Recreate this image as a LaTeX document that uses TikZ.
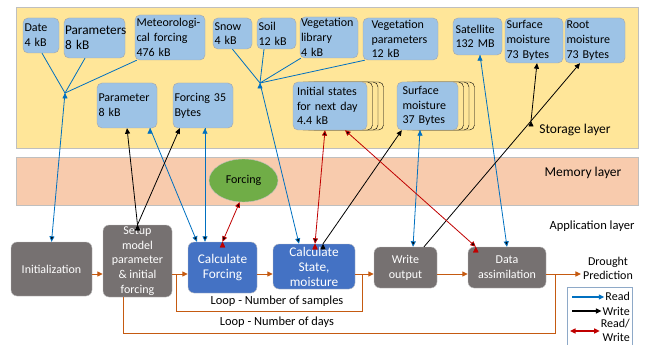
\documentclass[tikz,border=0pt]{standalone}
\usepackage{fontspec}
\setmainfont{Carlito}
\usetikzlibrary{arrows.meta,shapes.geometric}
\definecolor{storeyellow}{HTML}{FFE699}
\definecolor{memorange}{HTML}{F8CBAD}
\definecolor{storeblue}{HTML}{9DC3E6}
\definecolor{appgray}{HTML}{767171}
\definecolor{appblue}{HTML}{4472C4}
\definecolor{forcegreen}{HTML}{70AD47}
\definecolor{readblue}{HTML}{0070C0}
\definecolor{rwred}{HTML}{C00000}
\definecolor{floworange}{HTML}{C55A11}
\definecolor{legendblue}{HTML}{8EA9C8}
\begin{document}
\begin{tikzpicture}[x=1pt,y=-1pt,font=\fontsize{12}{14.7}\selectfont,>={Triangle[length=5.5pt,width=5pt]}]
        \tikzstyle{layerbox}=[rectangle,draw=black!25,inner sep=0pt]
        \tikzstyle{layertext}=[font=\fontsize{13.5}{16}\selectfont]
        \tikzstyle{storebox}=[rectangle,rounded corners=5pt,draw=black!35,fill=storeblue,align=left,inner xsep=1.5pt,inner ysep=1pt]
        \tikzstyle{cardbox}=[rectangle,rounded corners=5pt,draw=black,fill=storeyellow,inner sep=0pt,minimum height=48]
        \tikzstyle{appbox}=[rectangle,rounded corners=6pt,draw=black!25,text=white,align=center,inner sep=0pt]
        \tikzstyle{calcbox}=[appbox,fill=appblue,font=\fontsize{13.3}{15}\selectfont]
        \tikzstyle{readln}=[draw=readblue,line width=0.8pt]
        \tikzstyle{readarr}=[readln,->]
        \tikzstyle{writearr}=[draw=black,line width=0.8pt,->]
        \tikzstyle{rwarr}=[draw=rwred,line width=0.8pt,<->]
        \tikzstyle{flowarr}=[draw=floworange,line width=1pt,->]
        \tikzstyle{loopln}=[draw=floworange,line width=1pt]
        \useasboundingbox (0,0) rectangle (646,345);
        % layers
        \node [layerbox,fill=storeyellow,minimum width=622,minimum height=141] (storage) at (327,77.5) {};
        \node [layerbox,fill=memorange,minimum width=622,minimum height=48] (memory) at (327,181) {};
        \node [layertext] (storagelbl) at (575,130) {Storage layer};
        \node [layertext] (memorylbl) at (583,173) {Memory layer};
        \node [font=\fontsize{12.5}{15}\selectfont] (applbl) at (592,226) {Application layer};
        % storage layer
        \node [storebox,text width=33,minimum height=35] (date) at (41,35.5) {Date\\4 kB};
        \node [storebox,text width=59,inner xsep=1pt,minimum height=40,font=\fontsize{13.3}{15}\selectfont] (params) at (94.5,38) {Parameters\\8 kB};
        \node [storebox,text width=67,minimum height=45] (meteo) at (170,37.5) {Meteorologi-\\cal forcing\\476 kB};
        \node [storebox,text width=36,minimum height=31] (snow) at (232.5,33.5) {Snow\\4 kB};
        \node [storebox,text width=36,minimum height=31] (soil) at (276.5,33.5) {Soil\\12 kB};
        \node [storebox,text width=56,inner xsep=1pt,minimum height=41] (veglib) at (329,37.5) {Vegetation\\library\\4 kB};
        \node [storebox,text width=58,inner xsep=8.5pt,minimum height=42] (vegpar) at (400.5,39) {Vegetation\\parameters\\12 kB};
        \node [storebox,text width=44,inner xsep=2.5pt,minimum height=37] (sat) at (477.5,36.5) {Satellite\\132 MB};
        \node [storebox,text width=55,minimum height=45] (surf73) at (534,40.5) {Surface\\moisture\\73 Bytes};
        \node [storebox,text width=57,minimum height=45] (root73) at (595,40.5) {Root\\moisture\\73 Bytes};
        \node [storebox,text width=57,minimum height=45] (param8) at (127,105.5) {Parameter\\8 kB};
        \node [storebox,text width=57,minimum height=45] (forc35) at (203,105.5) {Forcing 35\\Bytes};
        \foreach \d [count=\i] in {16.5,11,5.5} {
                \node [cardbox,minimum width=74] (initc\i) at (330+\d,106) {};
                \node [cardbox,minimum width=61] (surfc\i) at (427.5+\d,106) {};
        }
        \node [storebox,text width=66,inner xsep=4pt,minimum height=48] (init) at (330,106) {Initial states\\for next day\\4.4 kB};
        \node [storebox,text width=50,inner xsep=5.5pt,minimum height=48] (surf37) at (427.5,106) {Surface\\moisture\\37 Bytes};
        % memory layer
        \node [ellipse,draw=black!25,fill=forcegreen,minimum width=69,minimum height=43,inner sep=0pt] (forcing) at (243.5,180.5) {Forcing};
        % application layer
        \node [appbox,fill=appgray,minimum width=81,minimum height=54] (initn) at (51.5,269) {Initialization};
        \node [appbox,fill=appgray,minimum width=69,minimum height=72] (setup) at (137.5,261) {Setup\\model\\parameter\\\& initial\\forcing};
        \node [calcbox,minimum width=69,minimum height=51] (cforce) at (222.5,267.5) {Calculate\\Forcing};
        \node [calcbox,minimum width=82,minimum height=45] (cstate) at (314,266.5) {Calculate\\State,\\moisture};
        \node [appbox,fill=appgray,minimum width=63,minimum height=41] (wout) at (405.5,267.5) {Write\\output};
        \node [appbox,fill=appgray,minimum width=78,minimum height=41] (dassim) at (507,267.5) {Data\\assimilation};
        \node [align=center,inner sep=2pt] (drought) at (608,268.5) {Drought\\Prediction};
        \node [font=\fontsize{12.4}{15}\selectfont] (lpsamp) at (277,301) {Loop - Number of samples};
        \node [font=\fontsize{12.4}{15}\selectfont] (lpdays) at (277,322) {Loop - Number of days};
        % junctions
        \coordinate (row) at (0,274);
        \coordinate (jA) at (65,93);
        \coordinate (jB) at (260,83);
        \coordinate (jC) at (531,121);
        \coordinate (sampR) at (362,274);
        \coordinate (sampL) at (176,274);
        \coordinate (dayR) at (555,274);
        % read
        \path[readln] ([xshift=1]date.south) edge (jA);
        \path[readln] ([xshift=-9.5]params.south) edge (jA);
        \path[readln] ([xshift=2]meteo.south west) edge (jA);
        \path[readarr] (jA) edge (initn.north);
        \path[readln] (snow.south) edge (jB);
        \path[readln] ([xshift=-12.5]soil.south) edge (jB);
        \path[readln] ([xshift=1]veglib.south west) edge (jB);
        \path[readln] ([xshift=2]vegpar.south west) edge (jB);
        \path[readarr] (jB) edge ([xshift=-15]cstate.north);
        \path[readarr] ([xshift=23]param8.south) edge ([xshift=-25.5]cforce.north);
        \path[readarr] ([xshift=2]forc35.south) edge ([xshift=-17.5]cforce.north);
        \path[readarr] ([xshift=-7.5]surf37.south) edge ([xshift=7.5]wout.north);
        \path[readarr] ([xshift=2.5]sat.south) edge (dassim.north);
        % write
        \path[writearr] (setup.north) edge (param8.south);
        \path[writearr] (setup.north) edge ([xshift=7]forc35.south west);
        \path[writearr] ([xshift=9]cstate.north) edge ([xshift=5]surf37.south west);
        \draw[writearr] ([xshift=18.5]wout.north) -- (jC) -- ([xshift=-15]root73.south);
        \path[writearr] (jC) edge ([xshift=3]surf73.south);
        % read/write
        \path[rwarr] (cforce.north) edge (forcing.-100);
        \path[rwarr] ([xshift=1]cstate.north) edge ([xshift=-5]init.south);
        \path[rwarr] ([xshift=8]dassim.north west) edge ([xshift=15]init.south);
        % flow
        \draw[flowarr] (initn.east |- row) -- (setup.west |- row);
        \draw[flowarr] (setup.east |- row) -- (cforce.west |- row);
        \draw[flowarr] (cforce.east |- row) -- (cstate.west |- row);
        \draw[flowarr] (cstate.east |- row) -- (wout.west |- row);
        \draw[flowarr] (wout.east |- row) -- (dassim.west |- row);
        \draw[flowarr] (dassim.east |- row) -- (drought.west |- row);
        \draw[loopln] (sampR) -- ++(0,37) -| (sampL);
        \draw[loopln] (dayR) -- ++(0,59) -| ([xshift=-14.5]setup.south);
        % legend
        \node [draw=legendblue,line width=0.8pt,minimum width=65,minimum height=70,inner sep=0pt,anchor=north west] (legend) at (567,287) {};
        \node [anchor=east,inner sep=1pt] (lgread) at (631,296) {Read};
        \node [anchor=east,inner sep=1pt] (lgwrite) at (631,311) {Write};
        \node [anchor=east,align=right,inner sep=1pt] (lgrw) at (631,330.5) {Read/\\Write};
        \coordinate (lgreadS) at (572,297);
        \coordinate (lgwriteS) at (572,311);
        \coordinate (lgrwS) at (570,331);
        \draw[readarr,line width=1.2pt] (lgreadS) -- (lgread.west |- lgreadS);
        \draw[writearr,line width=1.2pt] (lgwriteS) -- (lgwrite.west |- lgwriteS);
        \draw[rwarr,line width=1.2pt] (lgrwS) -- (lgrw.west |- lgrwS);
\end{tikzpicture}
\end{document}
